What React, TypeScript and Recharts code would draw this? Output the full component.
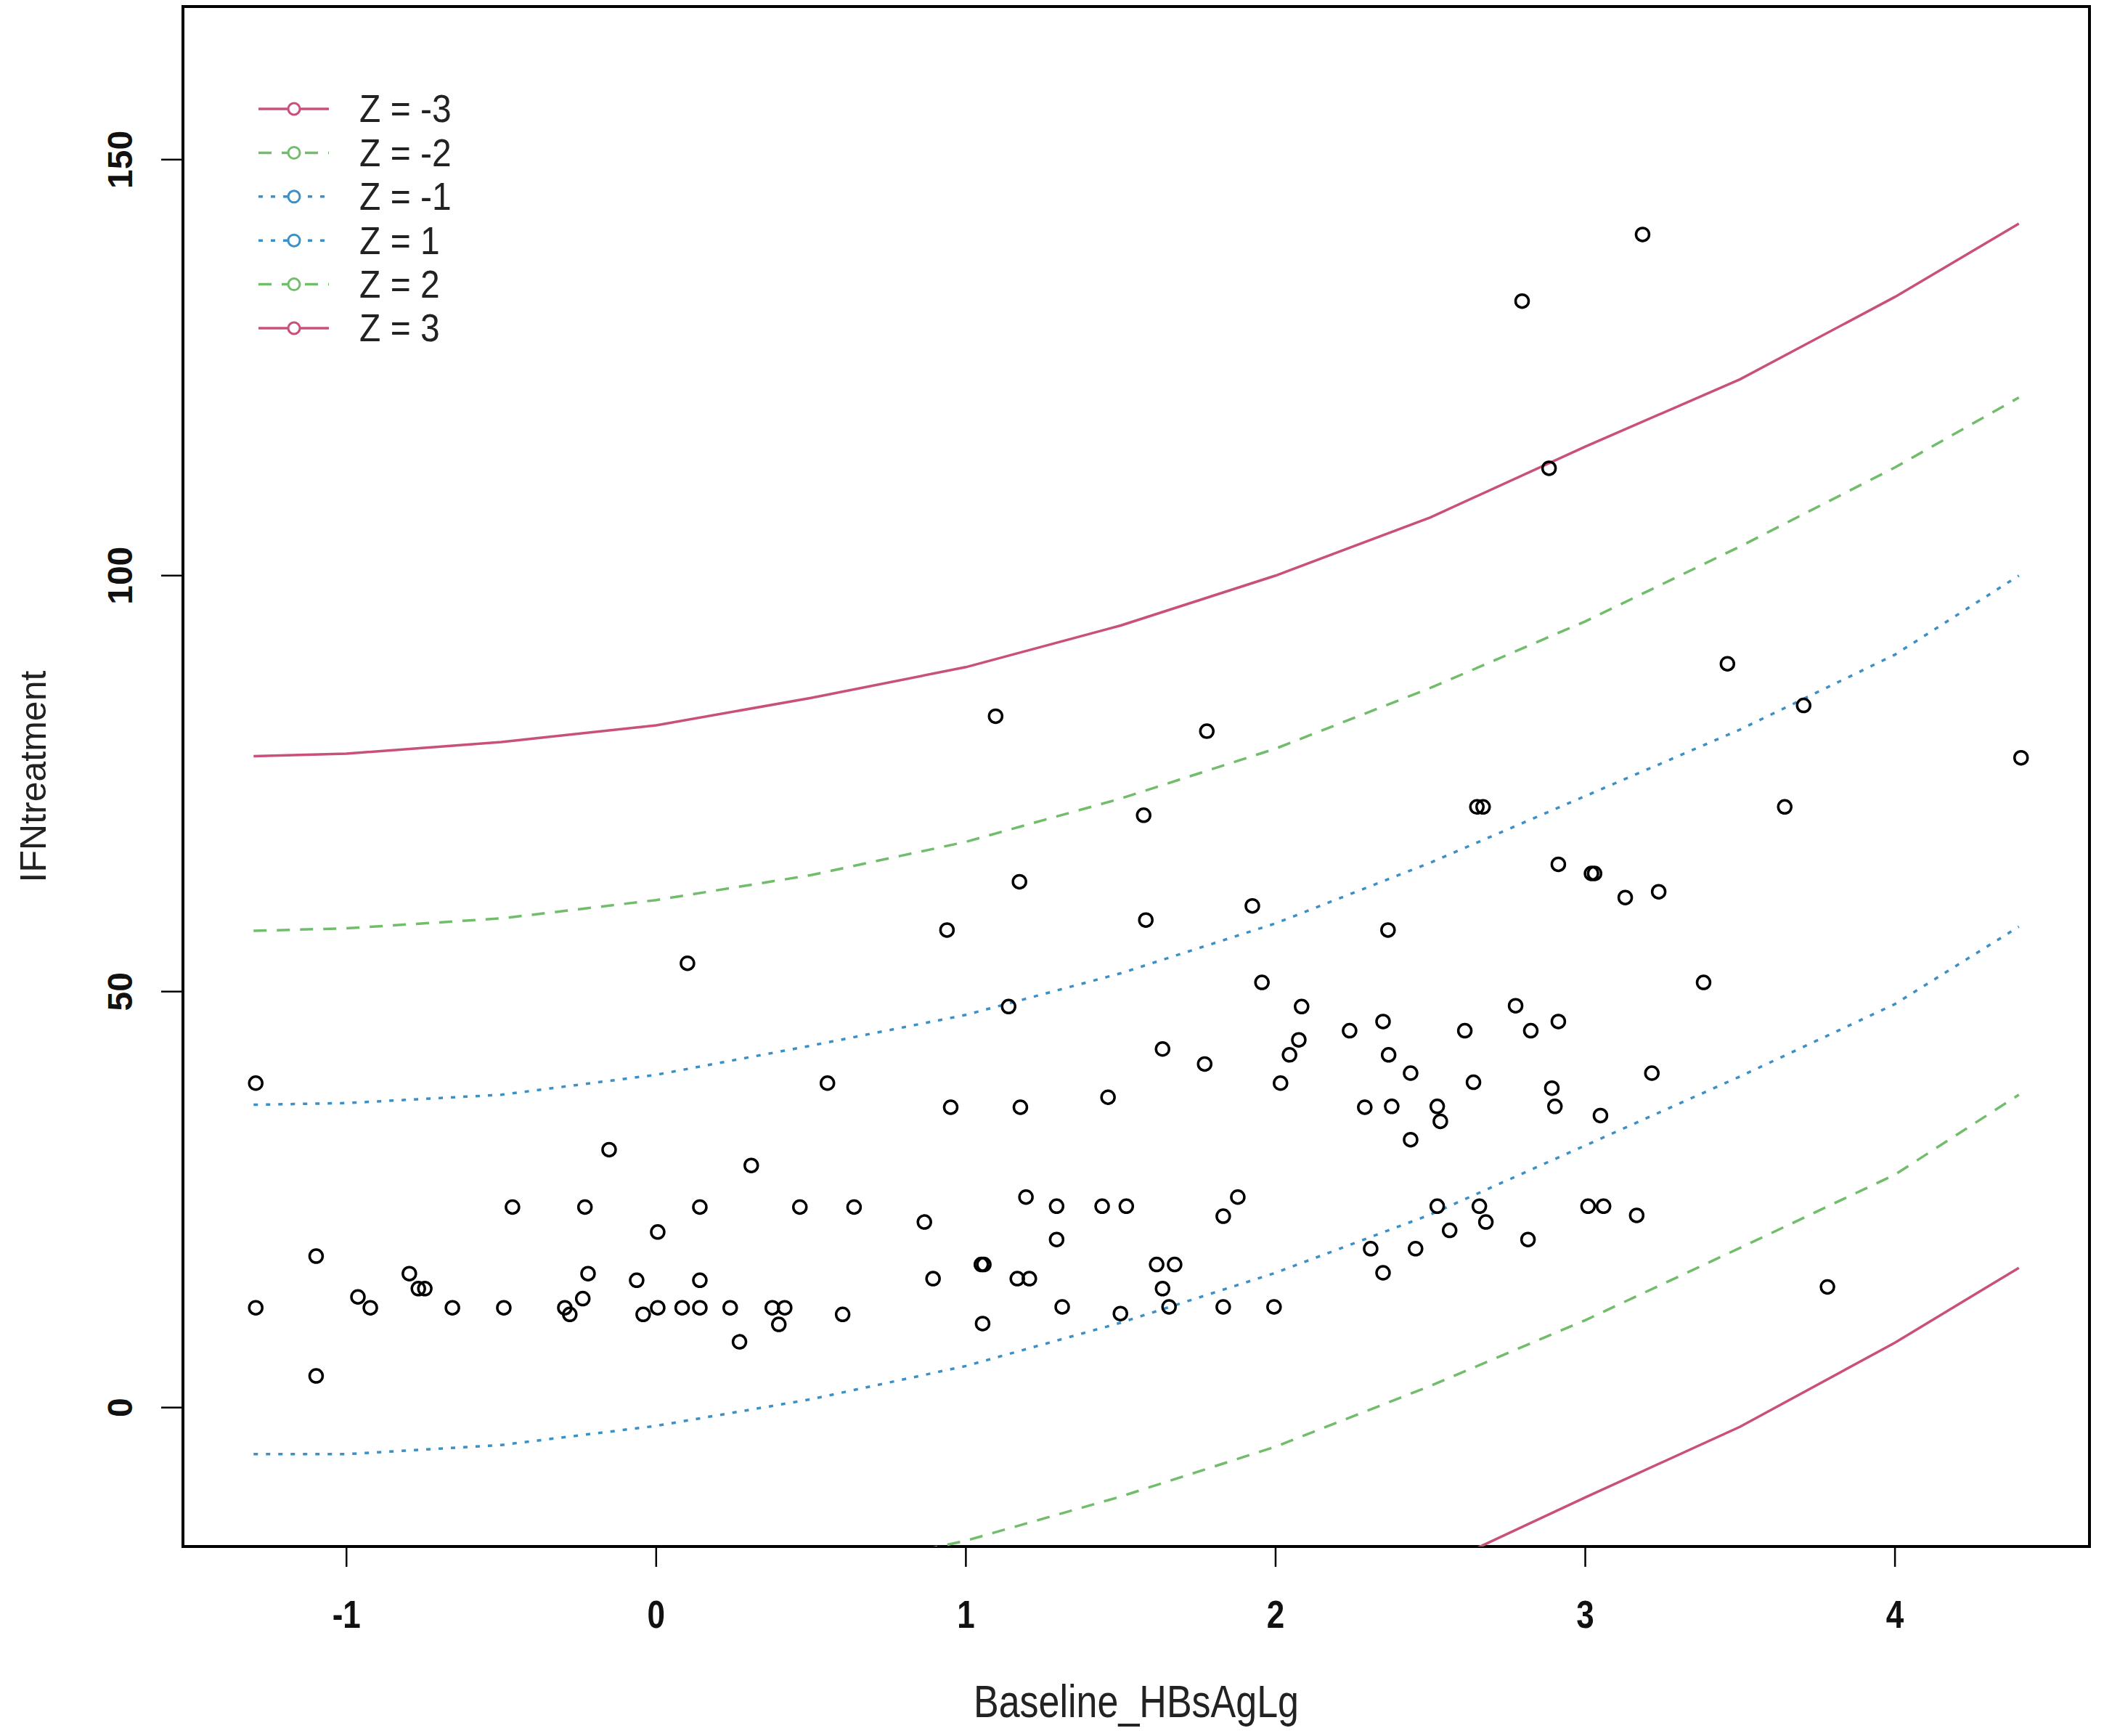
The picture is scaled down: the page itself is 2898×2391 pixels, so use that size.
import React from "react";
import { ComposedChart, Line, Scatter, XAxis, YAxis, ReferenceArea, Legend, Label } from "recharts";

// observed points: Baseline_HBsAgLg vs IFNtreatment
const baselineX = [
  -1.293, 0.553, -0.152, 0.307, -0.464, -0.23, 0.141, 0.464, 0.639, 0.005,
  -1.098, -0.797, -0.768, -0.747, -0.22, -0.063, 0.141, -0.963, -0.923, -1.293,
  -0.658, -0.492, -0.295, -0.279, -0.237, -0.042, 0.005, 0.084, 0.141, 0.239,
  0.375, 0.415, 0.396, 0.269, 0.602, -1.098, 0.101,
  1.956, 2.084, 2.239, 2.347, 2.075, 2.045, 2.016, 1.635, 1.771, 1.459,
  0.951, 1.176, 2.288, 1.138, 1.194, 1.293, 1.44, 1.518, 1.878, 1.831,
  0.866, 1.293, 1.05, 1.058, 0.894, 1.166, 1.205, 1.616, 1.674, 1.635,
  1.311, 1.499, 1.656, 1.831, 1.995, 1.054, 2.307, 2.347, 1.096, 1.778,
  1.574, 1.173, 1.925, 1.581, 0.939, 2.363,
  2.913, 3.02, 3.03, 3.129, 3.237, 3.382, 2.775, 2.611, 2.824, 2.913,
  2.365, 2.436, 2.639, 3.215, 2.892, 2.375, 2.522, 2.532, 2.902, 3.049,
  2.436, 2.522, 2.658, 2.679, 2.562, 2.815, 3.009, 3.059, 3.166, 2.452,
  3.185, 2.796, 2.883, 3.459, 3.705, 4.407, 2.65, 2.67, 3.644, 3.782,
];
const ifnY = [
  39.0, 39.0, 31.0, 29.1, 24.1, 24.1, 24.1, 24.1, 24.1, 21.1,
  18.2, 16.1, 14.3, 14.3, 16.1, 15.3, 15.3, 13.3, 12.0, 12.0,
  12.0, 12.0, 12.0, 11.2, 13.1, 11.2, 12.0, 12.0, 12.0, 12.0,
  12.0, 12.0, 10.0, 7.9, 11.2, 3.8, 53.4,
  51.1, 48.2, 45.3, 46.4, 44.2, 42.4, 39.0, 43.1, 41.3, 37.3,
  36.1, 36.1, 36.1, 48.2, 25.3, 24.2, 24.2, 24.2, 25.3, 23.0,
  22.3, 20.2, 17.2, 17.2, 15.5, 15.5, 15.5, 17.2, 17.2, 14.3,
  12.1, 11.3, 12.1, 12.1, 12.1, 10.1, 19.1, 16.2, 83.1, 81.3,
  71.2, 63.2, 60.3, 58.6, 57.4, 57.4,
  65.3, 64.2, 64.2, 61.3, 62.0, 51.1, 48.3, 45.3, 45.3, 46.4,
  42.4, 40.2, 39.1, 40.2, 38.4, 36.2, 36.2, 34.4, 36.2, 35.1,
  32.2, 24.2, 24.2, 22.3, 21.3, 20.2, 24.2, 24.2, 23.1, 19.1,
  141.0, 133.0, 112.9, 89.4, 84.4, 78.1, 72.2, 72.2, 72.2, 14.5,
];

// centile curves (z-score lines)
const curveX = [-1.3, -1.0, -0.5, 0, 0.5, 1.0, 1.5, 2.0, 2.5, 3.0, 3.5, 4.0, 4.4];
const zMinus3 = [null, null, null, null, null, null, null, null, -19.5, -10.8, -2.3, 7.8, 16.8];
const zMinus2 = [null, null, null, null, -20.0, -16.0, -10.7, -4.7, 2.6, 10.5, 19.2, 28.0, 37.6];
const zMinus1 = [-5.6, -5.6, -4.5, -2.2, 1.0, 5.0, 10.2, 16.2, 23.2, 31.5, 39.8, 48.5, 57.8];
const zPlus1 = [36.4, 36.6, 37.6, 40.0, 43.5, 47.2, 52.2, 58.2, 65.5, 73.5, 81.5, 90.5, 100.0];
const zPlus2 = [57.3, 57.6, 58.8, 61.0, 64.0, 68.0, 73.2, 79.2, 86.5, 94.5, 103.5, 113.0, 121.4];
const zPlus3 = [78.3, 78.6, 80.0, 82.0, 85.3, 89.0, 94.0, 100.0, 107.0, 115.5, 123.6, 133.5, 142.3];

const xTicks = [-1, 0, 1, 2, 3, 4];
const yTicks = [0, 50, 100, 150];
const xDomain = [-1.528, 4.628];
const yDomain = [-16.7, 168.4];

const PINK = "#c9507c";
const GREEN = "#72bd6c";
const BLUE = "#3d90c6";
const FONT = "'Liberation Sans', Arial, sans-serif";

const series = [
  { key: "zm3", label: "Z = -3", values: zMinus3, color: PINK, dash: undefined },
  { key: "zm2", label: "Z = -2", values: zMinus2, color: GREEN, dash: "18 14" },
  { key: "zm1", label: "Z = -1", values: zMinus1, color: BLUE, dash: "6 11" },
  { key: "zp1", label: "Z = 1", values: zPlus1, color: BLUE, dash: "6 11" },
  { key: "zp2", label: "Z = 2", values: zPlus2, color: GREEN, dash: "18 14" },
  { key: "zp3", label: "Z = 3", values: zPlus3, color: PINK, dash: undefined },
];

const curveRows = curveX.map((x, i) => {
  const row: any = { x };
  series.forEach((s) => (row[s.key] = s.values[i]));
  return row;
});
const pointRows = baselineX.map((x, i) => ({ x, y: ifnY[i] }));

const XTick = ({ x, y, payload }: any) => (
  <text
    transform={`translate(${x},${y + 64}) scale(1,1.2)`}
    textAnchor="middle"
    dominantBaseline="central"
    fontFamily={FONT}
    fontWeight="bold"
    fontSize={44}
    fill="#111"
  >
    {payload.value}
  </text>
);

const YTick = ({ x, y, payload }: any) => (
  <text
    transform={`translate(${x - 55},${y}) rotate(-90)`}
    textAnchor="middle"
    dominantBaseline="central"
    fontFamily={FONT}
    fontWeight="bold"
    fontSize={48}
    fill="#111"
  >
    {payload.value}
  </text>
);

const XTitle = ({ viewBox }: any) => (
  <text
    transform={`translate(${viewBox.x + viewBox.width / 2},${viewBox.y + 213}) scale(1,1.2)`}
    textAnchor="middle"
    dominantBaseline="central"
    fontFamily={FONT}
    fontSize={52}
    fill="#222"
  >
    Baseline_HBsAgLg
  </text>
);

const YTitle = ({ viewBox }: any) => (
  <text
    transform={`translate(${viewBox.x - 6},${viewBox.y + viewBox.height / 2}) rotate(-90)`}
    textAnchor="middle"
    dominantBaseline="central"
    fontFamily={FONT}
    fontSize={50}
    fill="#222"
  >
    IFNtreatment
  </text>
);

const ZLegend = () => (
  <svg width={420} height={420}>
    {series.map((s, i) => {
      const cy = 50 + i * 60.4;
      return (
        <g key={s.key}>
          <line x1={16} x2={113} y1={cy} y2={cy} stroke={s.color} strokeWidth={3.5} strokeDasharray={s.dash} />
          <circle cx={65} cy={cy} r={8} fill="#fff" stroke={s.color} strokeWidth={3} />
          <text
            transform={`translate(155,${cy}) scale(1,1.1)`}
            dominantBaseline="central"
            fontFamily={FONT}
            fontSize={48}
            fill="#222"
          >
            {s.label}
          </text>
        </g>
      );
    })}
  </svg>
);

const Ring = ({ cx, cy }: any) => <circle cx={cx} cy={cy} r={9} fill="none" stroke="#000" strokeWidth={3.5} />;

export default function App() {
  return (
    <div style={{ position: "absolute", left: 0, top: 0, width: 2898, height: 2391, background: "#fff" }}>
      <ComposedChart
        width={2898}
        height={2391}
        data={curveRows}
        margin={{ top: 9, right: 20, bottom: 61, left: 52 }}
      >
        <XAxis
          dataKey="x"
          type="number"
          domain={xDomain}
          allowDataOverflow
          ticks={xTicks}
          height={200}
          tickSize={28}
          axisLine={false}
          tickLine={{ stroke: "#000", strokeWidth: 2.5 }}
          tick={XTick}
        >
          <Label content={XTitle} />
        </XAxis>
        <YAxis
          type="number"
          domain={yDomain}
          allowDataOverflow
          ticks={yTicks}
          width={200}
          tickSize={30}
          axisLine={false}
          tickLine={{ stroke: "#000", strokeWidth: 2.5 }}
          tick={YTick}
        >
          <Label content={YTitle} />
        </YAxis>
        <ReferenceArea
          x1={xDomain[0]}
          x2={xDomain[1]}
          y1={yDomain[0]}
          y2={yDomain[1]}
          fill="none"
          stroke="#000"
          strokeWidth={4}
          ifOverflow="visible"
        />
        {series.map((s) => (
          <Line
            key={s.key}
            dataKey={s.key}
            type="linear"
            stroke={s.color}
            strokeWidth={3.5}
            strokeDasharray={s.dash}
            dot={false}
            activeDot={false}
            isAnimationActive={false}
          />
        ))}
        <Scatter data={pointRows} dataKey="y" shape={Ring} isAnimationActive={false} />
        <Legend
          layout="vertical"
          align="center"
          verticalAlign="middle"
          wrapperStyle={{ left: 340, top: 100, width: 420, height: 420 }}
          content={ZLegend}
        />
      </ComposedChart>
    </div>
  );
}
